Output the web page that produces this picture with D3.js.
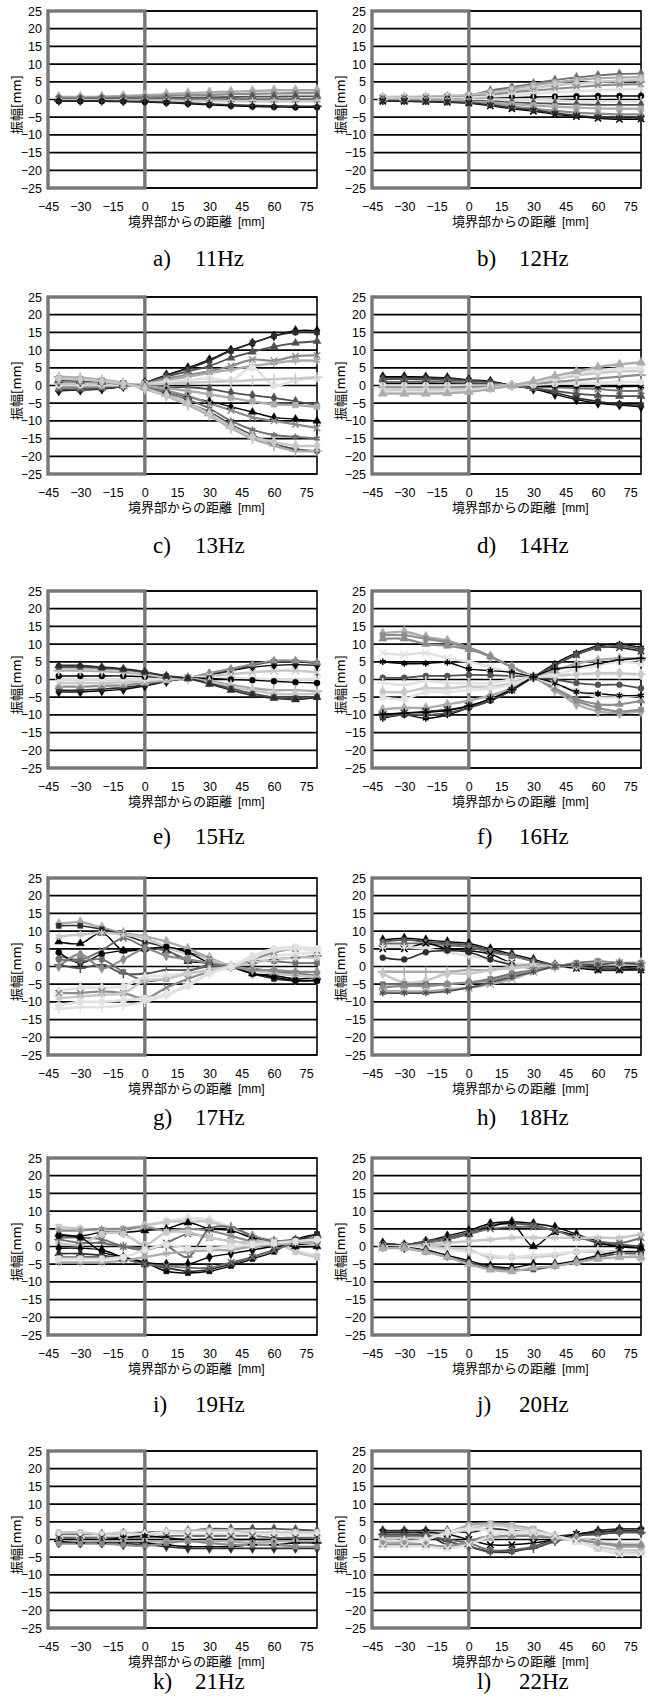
<!DOCTYPE html>
<html><head><meta charset="utf-8">
<script src="https://cdn.jsdelivr.net/npm/d3@7"></script>
<style>
html,body{margin:0;padding:0;background:#fff;}
svg{display:block;}
</style></head><body>
<svg id="fig" width="648" height="1701"></svg>
<script>
// ---- data ----
const distances = [-40, -30, -20, -10, 0, 10, 20, 30, 40, 50, 60, 70, 80];
const xTickValues = [-45, -30, -15, 0, 15, 30, 45, 60, 75];
const yTickValues = [-25, -20, -15, -10, -5, 0, 5, 10, 15, 20, 25];
const panelLetters = ["a)", "b)", "c)", "d)", "e)", "f)", "g)", "h)", "i)", "j)", "k)", "l)"];
const panelFreqs = ["11Hz", "12Hz", "13Hz", "14Hz", "15Hz", "16Hz", "17Hz", "18Hz", "19Hz", "20Hz", "21Hz", "22Hz"];
const xTitle = "境界部からの距離";
const xUnit = "[mm]";
const yTitle = "振幅[mm]";

const amp11Hz = [
  [0.7, 0.7, 0.8, 1.0, 1.2, 1.5, 1.8, 2.0, 2.2, 2.4, 2.6, 2.6, 2.6],
  [0.5, 0.5, 0.5, 0.7, 0.8, 1.0, 1.2, 1.3, 1.5, 1.6, 1.7, 1.8, 1.8],
  [0.2, 0.2, 0.3, 0.3, 0.3, 0.4, 0.5, 0.6, 0.7, 0.8, 0.8, 0.9, 0.9],
  [0.1, 0.1, 0.1, 0.1, 0.1, 0.1, 0.1, 0.1, 0.1, 0.1, 0.1, 0.1, 0.1],
  [-0.2, -0.2, -0.2, -0.2, -0.3, -0.3, -0.4, -0.4, -0.5, -0.5, -0.5, -0.5, -0.5],
  [-0.5, -0.5, -0.5, -0.6, -0.7, -0.9, -1.2, -1.5, -1.8, -2.0, -2.1, -2.2, -2.2],
  [-0.4, -0.4, -0.4, -0.5, -0.6, -0.8, -1.0, -1.3, -1.5, -1.7, -1.8, -1.9, -1.9]
];
const amp12Hz = [
  [0.5, 0.5, 0.6, 0.8, 1.2, 2.5, 3.5, 4.5, 5.5, 6.2, 6.8, 7.2, 7.3],
  [0.7, 0.7, 0.8, 1.0, 1.2, 2.0, 3.0, 4.0, 4.8, 5.5, 6.0, 6.2, 6.3],
  [0.6, 0.6, 0.7, 0.8, 1.0, 1.8, 2.5, 3.2, 4.0, 4.5, 5.0, 5.3, 5.5],
  [0.4, 0.4, 0.5, 0.6, 0.8, 1.3, 2.0, 2.5, 3.0, 3.5, 4.0, 4.2, 4.3],
  [0.3, 0.3, 0.3, 0.4, 0.5, 0.8, 1.2, 1.6, 2.0, 2.3, 2.6, 2.8, 3.0],
  [0.1, 0.1, 0.1, 0.2, 0.2, 0.3, 0.5, 0.7, 0.8, 0.9, 1.0, 1.0, 1.0],
  [0.0, 0.0, 0.0, 0.0, 0.0, 0.0, 0.0, 0.0, -0.3, -0.5, -0.5, -0.5, -0.5],
  [-0.2, -0.2, -0.2, -0.3, -0.4, -0.5, -0.8, -1.0, -1.2, -1.4, -1.5, -1.5, -1.5],
  [-0.3, -0.3, -0.3, -0.4, -0.6, -0.9, -1.3, -1.7, -2.0, -2.3, -2.5, -2.6, -2.6],
  [-0.4, -0.4, -0.5, -0.6, -0.8, -1.3, -2.0, -2.6, -3.2, -3.7, -4.0, -4.2, -4.2],
  [-0.5, -0.5, -0.6, -0.8, -1.0, -1.8, -2.6, -3.3, -4.2, -4.8, -5.3, -5.6, -5.5],
  [-0.5, -0.5, -0.6, -0.7, -1.0, -1.6, -2.4, -3.0, -3.8, -4.5, -5.0, -5.2, -5.2]
];
const amp13Hz = [
  [-1.5, -1.3, -1.0, -0.3, 0.8, 3.0, 5.0, 7.3, 10.0, 12.0, 14.0, 15.5, 15.5],
  [-1.3, -1.2, -0.9, -0.3, 0.8, 2.8, 4.8, 7.0, 9.8, 12.0, 14.0, 15.0, 15.0],
  [-1.0, -1.0, -0.7, -0.2, 0.7, 2.5, 4.0, 5.5, 7.8, 9.5, 11.0, 12.0, 12.5],
  [-0.5, -0.5, -0.3, 0.0, 0.5, 2.0, 3.0, 4.0, 5.5, 7.3, 7.0, 8.3, 8.5],
  [0.0, 0.0, 0.0, 0.1, 0.4, 1.5, 2.5, 3.5, 4.5, 5.5, 6.3, 7.0, 7.0],
  [0.3, 0.3, 0.3, 0.2, 0.3, 1.0, 1.5, 2.0, 1.5, 5.0, 0.0, 1.5, 2.0],
  [0.5, 0.5, 0.5, 0.3, 0.2, 0.5, 0.8, 1.0, 1.2, 1.5, 1.8, 2.0, 2.3],
  [1.0, 1.0, 0.8, 0.4, 0.0, -0.5, -0.5, -1.0, -2.0, -2.8, -3.5, -4.5, -5.5],
  [1.2, 1.2, 1.0, 0.5, -0.2, -0.8, -1.5, -2.5, -3.5, -4.5, -5.3, -5.5, -6.0],
  [1.5, 1.3, 1.0, 0.5, -0.5, -1.5, -3.3, -4.5, -6.0, -7.5, -9.0, -9.5, -10.0],
  [1.8, 1.5, 1.2, 0.6, -0.5, -1.5, -3.0, -5.0, -7.0, -9.0, -10.0, -11.0, -12.0],
  [2.0, 1.8, 1.4, 0.6, -0.6, -2.0, -4.0, -6.5, -10.0, -12.5, -14.0, -14.5, -15.0],
  [2.2, 2.0, 1.5, 0.7, -0.8, -2.5, -5.0, -7.5, -11.0, -14.0, -16.5, -18.0, -18.5],
  [2.5, 2.2, 1.6, 0.8, -1.0, -3.0, -5.5, -8.5, -12.0, -15.0, -17.0, -18.5, -18.5],
  [2.0, 1.8, 1.3, 0.5, -0.8, -2.8, -5.0, -8.0, -11.5, -14.5, -16.0, -17.0, -17.0]
];
const amp14Hz = [
  [2.5, 2.5, 2.4, 2.2, 1.6, 1.2, 0.0, -1.0, -2.5, -4.0, -5.0, -5.5, -6.0],
  [2.2, 2.2, 2.1, 2.0, 1.5, 1.0, 0.0, -0.8, -2.0, -3.5, -4.5, -5.3, -5.5],
  [1.8, 1.8, 1.7, 1.6, 1.3, 0.8, 0.0, -0.8, -1.5, -2.3, -2.8, -3.0, -3.0],
  [1.0, 1.0, 1.0, 1.0, 0.8, 0.5, 0.0, -0.5, -0.5, -0.8, -1.0, -1.5, -1.5],
  [0.5, 0.5, 0.5, 0.5, 0.4, 0.3, 0.0, -0.2, -0.2, -0.3, -0.3, -0.3, -0.2],
  [0.0, 0.0, 0.0, 0.0, 0.0, 0.0, 0.0, 0.2, 0.5, 0.7, 0.8, 1.0, 1.0],
  [-0.5, -0.5, -0.5, -0.5, -0.4, -0.3, 0.0, 0.5, 1.0, 1.5, 2.0, 2.5, 3.0],
  [-1.2, -1.2, -1.2, -1.1, -1.0, -0.6, 0.0, 0.8, 1.8, 2.8, 3.5, 4.0, 4.2],
  [-1.8, -1.8, -1.8, -1.7, -1.4, -0.8, 0.0, 1.0, 2.2, 3.5, 4.3, 4.8, 5.0],
  [-2.3, -2.3, -2.3, -2.2, -1.8, -1.0, 0.0, 1.2, 2.7, 4.0, 5.2, 6.0, 6.5]
];
const amp15Hz = [
  [-3.5, -3.5, -3.2, -2.8, -1.8, -0.6, 0.5, 1.5, 2.5, 3.5, 4.0, 4.2, 4.0],
  [-3.0, -3.0, -2.7, -2.3, -1.5, -0.5, 0.5, 1.3, 2.5, 4.0, 5.0, 5.0, 4.5],
  [-2.0, -2.0, -1.8, -1.6, -1.0, -0.3, 0.5, 1.8, 3.0, 4.3, 5.3, 5.3, 4.8],
  [-1.0, -1.0, -1.0, -0.8, -0.5, 0.0, 0.5, 1.0, 1.5, 2.0, 2.5, 2.5, 2.0],
  [0.0, 0.0, 0.0, 0.0, 0.0, 0.2, 0.5, 0.5, 0.5, 0.3, 0.0, 0.0, 0.0],
  [1.0, 1.0, 1.0, 1.0, 0.8, 0.5, 0.5, 0.3, 0.0, -0.2, -0.5, -0.8, -1.0],
  [2.5, 2.5, 2.3, 2.0, 1.5, 0.5, 0.3, -0.5, -1.5, -2.5, -3.0, -3.0, -3.3],
  [3.0, 3.0, 2.8, 2.5, 1.8, 0.8, 0.3, -0.8, -2.0, -3.0, -4.0, -4.2, -4.0],
  [3.5, 3.5, 3.2, 2.8, 2.0, 1.0, 0.3, -1.0, -2.5, -4.0, -5.0, -5.3, -5.0],
  [4.0, 4.0, 3.5, 3.0, 2.2, 1.0, 0.3, -1.3, -3.0, -4.5, -5.3, -5.7, -5.0]
];
const amp16Hz = [
  [13.0, 13.5, 12.0, 11.0, 9.0, 6.5, 3.5, 0.7, -3.0, -7.0, -9.0, -9.5, -9.0],
  [12.5, 12.5, 11.5, 10.5, 9.0, 6.5, 3.5, 0.7, -2.5, -6.0, -8.0, -9.0, -8.5],
  [11.5, 11.5, 10.0, 9.5, 8.5, 6.5, 3.5, 0.7, -2.5, -5.5, -7.0, -7.0, -6.0],
  [7.5, 7.0, 7.5, 6.0, 5.0, 3.5, 2.0, 0.7, -1.5, -3.0, -5.0, -5.0, -4.5],
  [5.0, 4.5, 4.5, 4.8, 3.0, 2.5, 2.0, 0.7, -1.0, -3.5, -4.0, -4.5, -4.5],
  [0.5, 0.5, 1.0, 1.0, 1.3, 1.2, 1.0, 0.7, 0.0, -1.0, -1.5, -1.5, -2.5],
  [-1.0, -1.5, -0.5, -1.0, -1.0, -1.0, 0.0, 0.7, 1.0, 1.5, 1.5, 1.5, 1.5],
  [-3.5, -3.5, -2.5, -2.5, -2.0, -2.0, -1.0, 0.7, 1.0, 1.5, 1.8, 1.8, 1.5],
  [-5.0, -5.5, -3.5, -3.5, -3.0, -2.5, -1.5, 0.7, 1.5, 3.0, 4.0, 5.0, 4.5],
  [-8.5, -8.0, -8.0, -7.0, -6.0, -4.5, -2.5, 0.7, 2.5, 4.5, 5.5, 6.0, 6.0],
  [-10.0, -9.5, -9.0, -8.5, -7.5, -5.5, -3.0, 0.7, 4.0, 7.0, 9.0, 9.0, 8.0],
  [-11.0, -10.0, -11.0, -10.0, -8.0, -6.0, -3.0, 0.7, 4.5, 7.5, 9.5, 10.0, 9.0],
  [-10.5, -10.0, -10.0, -9.5, -8.0, -6.0, -3.0, 0.7, 4.0, 7.0, 9.0, 9.5, 8.5],
  [-9.8, -9.5, -9.3, -8.8, -7.5, -5.5, -2.8, 0.7, 3.0, 3.5, 4.5, 5.5, 6.0]
];
const amp17Hz = [
  [12.0, 12.5, 11.0, 9.5, 8.5, 7.0, 5.0, 2.5, 0.0, -2.0, -3.0, -3.5, -3.5],
  [11.5, 11.5, 10.5, 9.0, 7.0, 5.5, 4.0, 2.0, 0.0, -2.0, -3.5, -4.0, -4.0],
  [7.0, 6.5, 9.5, 4.5, 5.0, 4.5, 1.5, 1.0, 0.0, -2.0, -2.5, -3.5, -3.0],
  [3.0, 2.0, 4.5, 8.0, 5.5, 4.5, 2.0, 1.0, 0.0, -0.5, -1.5, -2.0, -2.5],
  [8.5, 9.0, 9.5, 9.0, 8.0, 5.5, 3.5, 2.0, 0.0, -1.0, -2.0, -2.5, -3.0],
  [4.0, 1.0, 3.5, 4.5, 4.8, 5.5, 4.0, 1.0, 0.0, -2.0, -3.0, -4.0, -4.0],
  [0.5, -0.5, 0.5, -2.0, -2.0, -1.0, -1.0, 0.0, 0.0, 1.0, 2.0, 2.5, 3.0],
  [0.0, 3.5, -0.5, 2.0, 5.0, 3.0, 2.0, 1.0, 0.0, -1.0, -1.0, -1.5, -1.5],
  [2.0, 1.5, 2.0, -1.5, -4.0, -3.5, -1.5, 0.5, 0.0, 1.5, 1.5, 1.0, 1.0],
  [-7.0, -6.0, -6.0, -5.5, -3.0, -2.5, -2.0, -1.0, 0.0, 2.0, 3.0, 3.5, 4.0],
  [-7.5, -7.5, -7.0, -7.5, -9.0, -6.0, -3.5, -1.5, 0.0, 2.0, 4.0, 5.0, 4.5],
  [-9.0, -8.5, -8.0, -7.5, -4.0, -3.5, -2.0, -1.0, 0.0, 1.0, 2.0, 2.5, 2.5],
  [-11.0, -10.0, -10.0, -9.5, -9.0, -8.0, -5.5, -2.0, 0.0, 3.0, 5.0, 5.5, 5.0],
  [-12.0, -11.5, -11.5, -11.0, -10.0, -8.0, -5.0, -2.0, 0.0, 2.5, 4.5, 5.0, 4.5]
];
const amp18Hz = [
  [7.5, 8.0, 7.5, 7.0, 6.5, 5.0, 3.5, 2.0, 0.5, 0.0, -0.5, -0.5, -0.5],
  [7.0, 7.5, 7.0, 6.5, 6.0, 4.5, 3.0, 1.5, 0.5, 0.0, -0.5, -0.5, -0.5],
  [6.5, 6.5, 6.5, 6.0, 5.5, 4.0, 3.0, 1.5, 0.0, 0.0, -1.0, -1.0, -0.5],
  [5.0, 5.0, 6.5, 5.0, 4.5, 3.5, 1.0, 0.5, 0.0, -0.5, -1.0, -1.0, -1.0],
  [5.5, 5.5, 5.0, 4.0, 3.0, 2.0, 1.0, 0.5, 0.0, 0.5, 1.0, 1.0, 0.5],
  [2.5, 2.0, 4.0, 4.5, 4.0, 2.0, 0.5, -0.5, 0.0, 0.5, 0.0, 0.0, -1.0],
  [-1.5, -1.5, -1.5, -1.5, -1.0, -1.0, 0.0, 0.5, 0.0, 0.5, 1.0, 1.0, 1.0],
  [-2.0, -4.5, -4.0, -2.0, -2.0, -1.0, -0.5, 0.0, 0.0, 0.5, 1.0, 1.0, 1.0],
  [-5.0, -5.0, -5.0, -5.0, -4.5, -3.5, -2.0, -1.0, 0.0, 1.0, 1.5, 1.0, 1.0],
  [-6.0, -5.5, -5.5, -5.0, -4.5, -4.0, -2.5, -1.0, 0.0, 0.5, 1.0, 1.0, 0.5],
  [-7.0, -7.0, -7.0, -6.5, -6.0, -5.0, -3.5, -1.5, 0.0, 0.5, 1.0, 1.0, 0.5],
  [-7.5, -7.5, -7.5, -7.0, -6.0, -4.5, -3.0, -1.5, 0.0, 0.5, 0.5, 1.0, 0.5]
];
const amp19Hz = [
  [5.0, 5.0, 4.5, 4.0, 5.5, 7.0, 8.0, 7.5, 5.5, 3.0, 1.5, -1.0, -2.5],
  [5.5, 5.0, 4.5, 5.0, 6.0, 7.0, 7.0, 7.0, 5.0, 3.0, 1.5, -1.5, -3.0],
  [3.5, 3.0, 4.0, 4.0, 4.5, 5.0, 6.7, 5.0, 4.5, 2.5, 1.5, 0.0, 0.0],
  [2.5, 2.5, 2.0, 0.0, -1.0, 1.0, 3.5, 2.5, 1.5, 1.0, 1.5, 1.5, 2.0],
  [4.5, 4.5, 5.0, 5.0, 5.5, 4.5, 5.0, 4.5, 3.0, 1.5, 1.5, 1.5, 2.0],
  [1.0, 0.5, 3.5, 3.5, 0.5, 4.0, 4.0, 2.5, 1.5, 1.0, 1.5, 1.0, 1.0],
  [2.0, 1.0, 1.0, 0.0, -0.5, 0.0, -3.0, 5.0, 5.5, 3.0, 1.5, 2.0, 2.5],
  [-0.5, -0.5, -1.0, -3.0, -4.5, -5.0, -5.0, -3.0, -2.0, -1.0, 0.0, 0.5, 1.0],
  [3.0, 2.5, -1.5, -3.0, -4.5, -7.0, -7.5, -7.0, -5.5, -3.5, -1.5, 2.0, 3.5],
  [-2.0, -2.0, -2.5, -3.5, -5.0, -6.0, -7.0, -6.5, -5.0, -3.0, -1.0, 1.5, 3.5],
  [-3.0, -3.0, -3.0, -3.5, -5.0, -5.5, -6.0, -6.0, -4.5, -3.0, -1.0, 1.0, 2.0],
  [-4.5, -4.5, -4.5, -4.0, -3.0, -2.0, -1.5, -1.0, -1.0, 0.0, 0.5, 1.0, 1.0],
  [-3.5, -3.5, -3.5, -3.0, -1.0, 0.5, -0.5, -0.5, 0.0, 0.5, 1.0, 1.5, 2.0]
];
const amp20Hz = [
  [1.0, 0.5, 1.5, 3.0, 4.5, 6.5, 7.0, 6.5, 5.5, 3.5, 1.5, 0.5, 0.0],
  [0.8, 0.5, 1.5, 2.5, 4.0, 6.0, 6.5, 6.0, 4.5, 3.0, 1.0, 0.5, 0.0],
  [0.5, 0.3, 1.0, 2.0, 3.5, 5.5, 6.5, 0.0, 4.0, 3.0, 1.0, 0.0, -0.5],
  [0.3, 0.2, 1.0, 2.0, 3.5, 5.0, 5.5, 5.5, 4.5, 2.5, 1.5, 1.0, 2.5],
  [0.0, 0.0, 0.5, 1.0, 1.5, 2.0, 2.5, 2.5, 2.5, 2.5, 2.5, 2.5, 3.5],
  [0.0, 0.0, 0.0, -0.5, -1.0, -3.0, -3.0, -3.0, -2.5, -1.5, -1.5, -1.5, -3.5],
  [0.0, -0.2, -0.5, -1.0, -1.5, -2.5, -3.0, -2.5, -2.0, -1.5, -1.0, -2.0, -2.0],
  [0.0, -0.3, -1.0, -2.5, -4.0, -5.5, -6.0, -5.0, -5.0, -4.0, -2.5, -1.5, -1.5],
  [-0.3, -0.5, -1.5, -3.0, -4.5, -6.0, -6.5, -6.5, -5.5, -4.5, -3.0, -2.0, -2.0],
  [-0.5, -0.5, -1.5, -3.0, -5.0, -6.5, -7.0, -6.0, -5.5, -4.5, -3.5, -3.0, -3.0]
];
const amp21Hz = [
  [1.5, 1.5, 1.5, 1.8, 2.0, 2.2, 2.5, 3.0, 3.0, 3.0, 3.0, 2.8, 2.5],
  [2.0, 2.0, 1.5, 2.0, 1.5, 2.0, 2.5, 2.5, 2.5, 2.0, 2.0, 2.0, 2.0],
  [1.0, 1.0, 1.0, 1.0, 1.5, 2.0, 1.5, 1.5, 1.5, 1.5, 1.5, 1.5, 1.5],
  [0.5, 0.5, 0.5, 0.5, 0.5, 1.0, 1.0, 1.0, 1.0, 1.0, 0.5, 0.5, 0.5],
  [0.0, 0.0, 0.0, 0.5, 1.0, 0.5, 0.0, 0.0, 0.0, 0.0, 0.0, 0.0, 0.0],
  [-0.5, -0.5, -0.5, -0.5, -0.5, -0.5, -0.5, -0.5, -0.5, -1.0, -0.5, -0.5, -0.5],
  [-0.5, -1.0, -1.0, -1.0, -1.0, -1.5, -2.0, -2.0, -2.0, -1.5, -1.5, -1.0, -1.0],
  [-1.0, -1.0, -1.0, -1.5, -1.5, -2.0, -2.5, -2.5, -2.5, -2.5, -2.5, -2.5, -2.5],
  [-1.2, -1.2, -1.2, -1.5, -1.8, -1.0, -0.5, -1.0, -1.5, -1.5, -1.5, -2.0, -2.0]
];
const amp22Hz = [
  [2.5, 2.5, 2.5, 2.5, 2.0, 3.0, 2.5, 2.0, 1.0, 1.5, 2.5, 3.0, 3.0],
  [0.0, 0.5, 1.5, 2.0, 4.0, 4.5, 4.0, 3.0, 1.0, -0.5, -2.5, -4.0, -3.5],
  [0.5, 0.5, 1.0, 1.5, 3.0, 4.0, 3.5, 2.5, 1.0, -0.5, -2.0, -3.0, -3.0],
  [2.0, 2.0, 2.0, 1.5, 0.0, -1.5, -1.5, -1.0, 0.0, 1.5, 2.0, 2.5, 2.5],
  [2.0, 2.0, 1.5, -1.5, -2.0, -3.5, -3.5, -2.0, 0.0, 1.0, 2.0, 2.5, 2.5],
  [1.0, 1.0, 1.0, 0.0, -1.0, -3.0, -3.0, -2.0, -0.5, 1.0, 1.5, 2.0, 2.0],
  [1.5, 1.5, 1.0, -0.5, -2.0, -3.5, -3.0, -2.5, -0.5, 1.0, 1.5, 2.0, 2.0],
  [-0.5, -0.5, 0.0, 2.0, 3.0, 2.5, 2.0, 1.5, 0.5, 0.0, -0.5, -1.0, -1.0],
  [-1.0, -1.0, -1.5, -2.0, -1.0, 0.5, 1.0, 1.0, 0.5, 0.0, -1.0, -2.0, -2.0],
  [-1.5, -1.5, -1.5, -2.0, -0.5, 1.0, 1.0, 1.0, 0.5, 0.0, -1.0, -1.5, -1.5],
  [-2.0, -2.0, -2.0, -2.5, -1.5, 1.0, 2.0, 2.0, 1.0, -0.5, -2.5, -4.0, -4.0]
];
const panelSeries = [amp11Hz, amp12Hz, amp13Hz, amp14Hz, amp15Hz, amp16Hz,
                     amp17Hz, amp18Hz, amp19Hz, amp20Hz, amp21Hz, amp22Hz];

// ---- styling ----
const shadeHex = { K: "#000000", D: "#2c2c2c", DG: "#505050", G: "#6e6e6e",
                   MG: "#8c8c8c", LG: "#acacac", VL: "#c8c8c8", W: "#e2e2e2" };
const shadeWidth = { K: 1.4, D: 1.6, DG: 1.8, G: 1.9, MG: 2.2, LG: 2.4, VL: 2.5, W: 2.6 };
const panelShades = [
  ["LG", "MG", "DG", "G", "VL", "K", "D"],
  ["G", "LG", "VL", "MG", "W", "K", "W", "DG", "LG", "MG", "K", "D"],
  ["K", "D", "DG", "MG", "LG", "W", "VL", "DG", "LG", "K", "MG", "G", "DG", "LG", "VL"],
  ["K", "D", "DG", "G", "K", "W", "MG", "VL", "W", "LG"],
  ["K", "D", "MG", "VL", "W", "K", "LG", "VL", "DG", "D"],
  ["LG", "MG", "MG", "W", "K", "DG", "W", "VL", "W", "LG", "D", "K", "DG", "K"],
  ["LG", "D", "K", "G", "VL", "K", "DG", "MG", "G", "W", "MG", "VL", "W", "W"],
  ["K", "DG", "G", "K", "W", "D", "LG", "VL", "G", "MG", "LG", "DG"],
  ["W", "VL", "K", "G", "MG", "VL", "G", "K", "K", "D", "G", "LG", "W"],
  ["K", "DG", "K", "G", "VL", "VL", "W", "K", "DG", "LG"],
  ["DG", "VL", "W", "G", "K", "LG", "K", "D", "MG"],
  ["D", "LG", "VL", "K", "D", "G", "DG", "W", "LG", "MG", "W"]
];
const markerTypes = [
  { t: d3.symbolDiamond, s: 30, filled: true },
  { t: d3.symbolSquare, s: 26, filled: true },
  { t: d3.symbolTriangle, s: 28, filled: true },
  { t: d3.symbolTimes || d3.symbolCross, s: 28, filled: false },
  { t: d3.symbolAsterisk || d3.symbolCross, s: 30, filled: false },
  { t: d3.symbolCircle, s: 28, filled: true },
  { t: d3.symbolPlus || d3.symbolCross, s: 30, filled: false }
];

// ---- layout ----
const colLeft = [48, 372];
const rowTop = [11, 297, 591, 878, 1158, 1451];
const captionBase = [266, 553, 844, 1125, 1412, 1689];
const plotW = 269, plotH = 177;
const tickFont = "'Liberation Sans', Arial, sans-serif";
const cjkFont = "'Noto Sans CJK JP', 'Noto Sans', sans-serif";
const serifFont = "'Liberation Serif', 'Times New Roman', serif";

const svg = d3.select("#fig");
svg.append("rect").attr("width", 648).attr("height", 1701).attr("fill", "#fff");

const x = d3.scaleLinear().domain([-45, 80]).range([0, plotW]);
const y = d3.scaleLinear().domain([-25, 25]).range([plotH, 0]);
const line = d3.line()
  .x((d, i) => x(distances[i]))
  .y(d => y(d))
  .curve(d3.curveCatmullRom.alpha(0.5));

panelSeries.forEach((seriesList, p) => {
  const col = p % 2, row = Math.floor(p / 2);
  const left = colLeft[col], top = rowTop[row];
  const g = svg.append("g").attr("transform", `translate(${left},${top})`);

  const clipId = `clip${p}`;
  g.append("clipPath").attr("id", clipId)
    .append("rect").attr("x", 0).attr("y", 0).attr("width", plotW).attr("height", plotH);

  // horizontal grid lines
  g.append("g").selectAll("line").data(yTickValues).join("line")
    .attr("x1", 0).attr("x2", plotW)
    .attr("y1", d => y(d)).attr("y2", d => y(d))
    .attr("stroke", "#000").attr("stroke-width", 1.7);

  // plot frame
  g.append("rect").attr("x", 0).attr("y", 0).attr("width", plotW).attr("height", plotH)
    .attr("fill", "none").attr("stroke", "#000").attr("stroke-width", 1.6);

  // region left of the boundary
  g.append("rect")
    .attr("x", x(-45)).attr("y", 0)
    .attr("width", x(0) - x(-45)).attr("height", plotH)
    .attr("fill", "none").attr("stroke", "#767676").attr("stroke-width", 3.4);

  const shades = panelShades[p];
  const plotArea = g.append("g").attr("clip-path", `url(#${clipId})`);

  seriesList.forEach((vals, s) => {
    const shade = shades[s % shades.length];
    plotArea.append("path").datum(vals)
      .attr("d", line)
      .attr("fill", "none")
      .attr("stroke", shadeHex[shade])
      .attr("stroke-width", shadeWidth[shade])
      .attr("stroke-linejoin", "round");
  });

  seriesList.forEach((vals, s) => {
    const shade = shades[s % shades.length];
    const m = markerTypes[s % markerTypes.length];
    const sym = d3.symbol().type(m.t).size(m.s + (shadeWidth[shade] > 2.2 ? 8 : 0));
    g.append("g").selectAll("path").data(vals).join("path")
      .attr("transform", (d, i) => `translate(${x(distances[i])},${y(d)})`)
      .attr("d", sym)
      .attr("fill", m.filled ? shadeHex[shade] : "none")
      .attr("stroke", shadeHex[shade])
      .attr("stroke-width", m.filled ? 0.5 : 1.5);
  });

  // y axis
  const ya = g.append("g").call(d3.axisLeft(y).tickValues(yTickValues).tickSize(0).tickPadding(6));
  ya.select(".domain").remove();
  ya.selectAll("text").attr("font-family", tickFont).attr("font-size", 12.5).attr("fill", "#000");

  // x axis
  const xa = g.append("g").attr("transform", `translate(0,${plotH})`)
    .call(d3.axisBottom(x).tickValues(xTickValues).tickSize(0).tickPadding(14));
  xa.select(".domain").remove();
  xa.selectAll("text").attr("font-family", tickFont).attr("font-size", 12.5).attr("fill", "#000");

  // axis titles
  g.append("text")
    .attr("transform", `translate(-33,${plotH / 2 + 5}) rotate(-90)`)
    .attr("text-anchor", "middle")
    .attr("dominant-baseline", "central")
    .attr("font-family", cjkFont).attr("font-size", 13)
    .text(yTitle);

  const xt = g.append("text")
    .attr("x", 80).attr("y", plotH + 38)
    .attr("font-family", cjkFont).attr("font-size", 13);
  xt.append("tspan").text(xTitle);
  xt.append("tspan").attr("dx", 6).attr("font-family", tickFont).attr("font-size", 12).text(xUnit);

  // caption
  svg.append("text")
    .attr("x", left + 105).attr("y", captionBase[row])
    .attr("font-family", serifFont).attr("font-size", 23)
    .text(panelLetters[p]);
  svg.append("text")
    .attr("x", left + 147).attr("y", captionBase[row])
    .attr("font-family", serifFont).attr("font-size", 23)
    .text(panelFreqs[p]);
});
</script>
</body></html>
